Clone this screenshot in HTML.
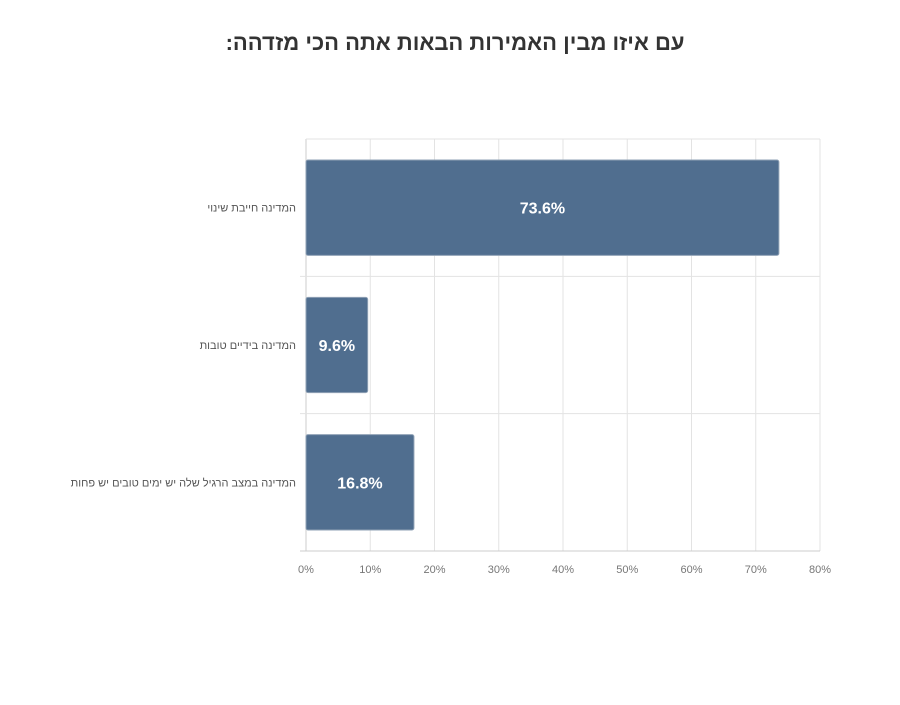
<!DOCTYPE html>
<html><head><meta charset="utf-8"><style>
body{margin:0;background:#fff;}
svg text{font-family:"Liberation Sans","DejaVu Sans",sans-serif;}
</style></head><body>
<svg width="900" height="700" xmlns="http://www.w3.org/2000/svg">
<text x="455" y="50" text-anchor="middle" font-size="22" font-weight="bold" fill="#333" direction="rtl">עם איזו מבין האמירות הבאות אתה הכי מזדהה:</text>
<g id="grid"></g><g id="bars"></g><g id="labels"></g>
</svg>
<script>
const categories=["המדינה חייבת שינוי","המדינה בידיים טובות","המדינה במצב הרגיל שלה יש ימים טובים יש פחות"];
const values=[73.6,9.6,16.8];
const tickValues=[0,10,20,30,40,50,60,70,80];
const tickLabels=["0%","10%","20%","30%","40%","50%","60%","70%","80%"];
const NS="http://www.w3.org/2000/svg";
const x0=306,x1=820,y0=139,y1=551,xmax=80;
const xs=v=>x0+(v/xmax)*(x1-x0);
const band=(y1-y0)/categories.length;
function mk(t,a,p){const e=document.createElementNS(NS,t);for(const k in a)e.setAttribute(k,a[k]);p.appendChild(e);return e;}
const g=document.getElementById('grid'),b=document.getElementById('bars'),l=document.getElementById('labels');
tickValues.forEach((v,i)=>{
 const ln=mk('line',{x1:xs(v),x2:xs(v),y1:y0,y2:y1,stroke:i===0?'#ccc':'#e3e3e3','stroke-width':1},g);
 
 
 const t=mk('text',{x:xs(v),y:573,'text-anchor':'middle','font-size':11,fill:'#777'},l);
 t.textContent=tickLabels[i];
 
 
});
const plotTop=mk('line',{x1:x0,x2:x1,y1:y0,y2:y0,stroke:'#e3e3e3'},g);


for(let i=1;i<categories.length;i++){
 const ln=mk('line',{x1:x0-6,x2:x1,y1:y0+band*i,y2:y0+band*i,stroke:'#e3e3e3'},g);
 
 
}
const ax=mk('line',{x1:x0-6,x2:x1,y1:y1,y2:y1,stroke:'#ccc'},g);


categories.forEach((c,i)=>{
 const by=y0+band*i+21,bh=band-42;
 const r=mk('rect',{x:x0,y:by,width:xs(values[i])-x0,height:bh,rx:2,fill:'#506e8f',stroke:'#8fa1b5','stroke-width':1},b);
 
 
 const vt=mk('text',{x:(x0+xs(values[i]))/2,y:by+bh/2+6,'text-anchor':'middle','font-size':16,'font-weight':'bold',fill:'#fff'},l);
 vt.textContent=values[i].toFixed(1)+'%';
 
 
 const ct=mk('text',{x:296,y:y0+band*i+band/2+4,'text-anchor':'start','font-size':11,fill:'#555',direction:'rtl'},l);
 ct.textContent=c;
 
 
});
</script>
</body></html>
